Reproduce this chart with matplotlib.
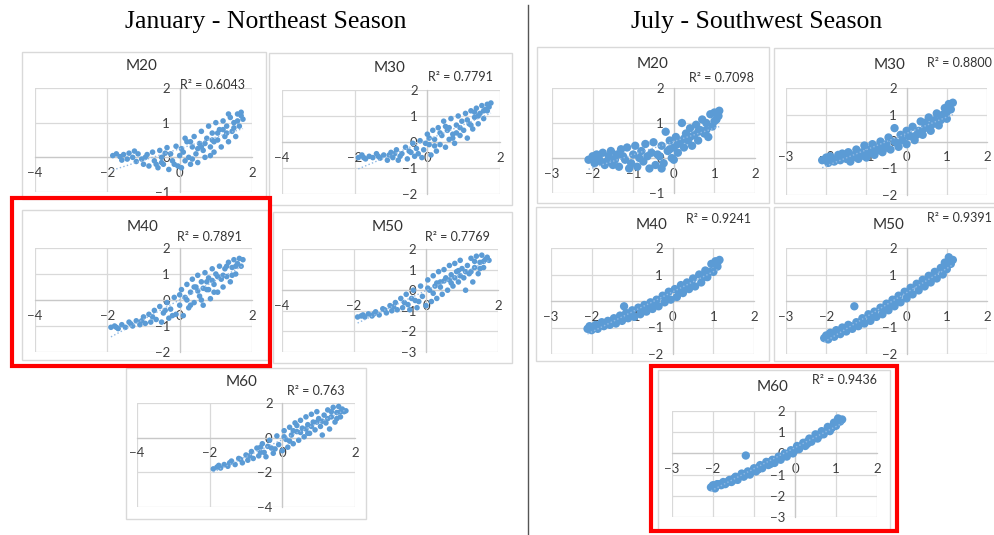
import numpy as np
import matplotlib.pyplot as plt
from matplotlib.patches import Rectangle
from matplotlib.lines import Line2D

W, H = 994, 535
BLUE = '#5B9BD5'
GRID = '#d9d9d9'
plt.rcParams['font.family'] = ['Lato', 'DejaVu Sans']

# ---- data: (x, y) pairs ----
jan_m20 = np.array([
    (-1.85, 0.05), (-1.75, 0.1), (-1.65, 0.02), (-1.55, 0.08), (-1.45, -0.05), (-1.4, 0.12),
    (-1.3, 0.0), (-1.2, -0.12), (-1.15, 0.1), (-1.05, -0.05), (-1.0, -0.2), (-0.9, 0.08),
    (-0.85, -0.25), (-0.75, 0.15), (-0.7, -0.1), (-0.6, -0.3), (-0.55, 0.2), (-0.5, 0.0),
    (-0.45, -0.2), (-0.35, 0.28), (-0.3, -0.35), (-0.25, 0.1), (-0.2, -0.1), (-0.1, 0.32),
    (-0.05, -0.25), (0.0, 0.05), (0.05, -0.3), (0.1, 0.15), (0.15, -0.1), (0.2, 0.45),
    (0.25, 0.0), (0.3, -0.2), (0.35, 0.3), (0.4, 0.6), (0.45, 0.1), (0.5, -0.15), (0.55, 0.4),
    (0.6, 0.75), (0.65, 0.2), (0.7, 0.0), (0.75, 0.55), (0.8, 0.9), (0.85, 0.3), (0.9, 0.7),
    (0.95, 0.15), (1.0, 1.0), (1.05, 0.5), (1.1, 0.8), (1.15, 0.3), (1.2, 1.05), (1.25, 0.6),
    (1.3, 0.9), (1.35, 0.45), (1.4, 1.15), (1.45, 0.75), (1.5, 1.0), (1.55, 0.6), (1.6, 1.25),
    (1.65, 0.9), (1.7, 1.3), (1.75, 1.1), (0.3, 0.45), (0.6, 0.3), (0.9, 0.5), (1.2, 0.8),
    (-1.6, -0.08), (-1.25, 0.18), (-0.95, 0.0), (-0.65, -0.2), (-0.4, 0.12), (-0.15, -0.2),
    (0.05, 0.25), (0.35, -0.05), (0.5, 0.25), (0.7, 0.4), (0.85, 0.05), (1.05, 0.7),
    (1.3, 0.7), (1.5, 0.85), (1.6, 1.05), (1.7, 1.2), (0.15, 0.55), (-0.5, -0.15),
    (1.35, 1.25), (0.95, 0.45)])

jan_m30 = np.array([
    (-1.9, -0.6), (-1.8, -0.5), (-1.7, -0.65), (-1.6, -0.55), (-1.5, -0.6), (-1.4, -0.45),
    (-1.3, -0.62), (-1.2, -0.5), (-1.1, -0.7), (-1.0, -0.4), (-0.95, -0.6), (-0.85, -0.3),
    (-0.8, -0.7), (-0.7, -0.45), (-0.6, -0.2), (-0.55, -0.65), (-0.5, -0.35), (-0.4, -0.05),
    (-0.35, -0.55), (-0.3, -0.25), (-0.2, 0.05), (-0.15, -0.6), (-0.1, -0.3), (0.0, 0.3),
    (0.05, -0.1), (0.1, -0.5), (0.15, 0.45), (0.2, 0.1), (0.25, -0.35), (0.3, 0.55),
    (0.35, -0.1), (0.4, 0.25), (0.45, 0.8), (0.5, -0.2), (0.55, 0.45), (0.6, 0.1), (0.65, 0.9),
    (0.7, 0.3), (0.75, -0.05), (0.8, 0.65), (0.85, 1.0), (0.9, 0.25), (0.95, 0.8), (1.0, 0.45),
    (1.05, 1.1), (1.1, 0.15), (1.15, 0.7), (1.2, 1.2), (1.25, 0.5), (1.3, 0.95), (1.35, 1.3),
    (1.4, 0.7), (1.45, 1.1), (1.5, 1.4), (1.55, 0.9), (1.6, 1.25), (1.65, 1.45), (1.7, 1.35),
    (1.75, 1.5), (-0.9, -0.45), (0.5, 0.6),
    (-1.75, -0.6), (-1.35, -0.55), (-1.05, -0.5), (-0.75, -0.55), (-0.45, -0.4), (-0.25, -0.45),
    (0.05, 0.15), (0.2, -0.15), (0.35, 0.35), (0.6, 0.55), (0.7, 0.15), (0.9, 0.55),
    (1.1, 0.85), (1.2, 0.65), (1.4, 1.0), (1.55, 1.2), (1.65, 1.2), (0.8, 0.35),
    (-0.05, -0.05), (1.3, 1.15)])

jan_m40 = np.array([
    (-1.9, -1.05), (-1.8, -1.0), (-1.7, -1.1), (-1.6, -0.95), (-1.5, -1.05), (-1.4, -0.85),
    (-1.3, -1.0), (-1.2, -0.8), (-1.1, -0.95), (-1.0, -0.65), (-0.95, -0.9), (-0.85, -0.55),
    (-0.8, -0.85), (-0.7, -0.4), (-0.65, -0.75), (-0.55, -0.25), (-0.5, -0.85), (-0.45, -0.5),
    (-0.35, -0.1), (-0.3, -0.7), (-0.25, -0.35), (-0.15, 0.1), (-0.1, -0.55), (0.0, -0.2),
    (0.05, 0.4), (0.1, -0.6), (0.15, 0.1), (0.2, 0.6), (0.25, -0.3), (0.3, 0.3), (0.35, 0.8),
    (0.4, -0.1), (0.45, 0.5), (0.5, 0.95), (0.55, 0.15), (0.6, 0.7), (0.65, -0.2), (0.7, 1.05),
    (0.75, 0.4), (0.8, 0.85), (0.85, 0.05), (0.9, 1.2), (0.95, 0.6), (1.0, 1.0), (1.05, 0.3),
    (1.1, 1.3), (1.15, 0.8), (1.2, 0.5), (1.25, 1.2), (1.3, 0.9), (1.35, 1.45), (1.4, 0.7),
    (1.45, 1.25), (1.5, 1.55), (1.55, 1.0), (1.6, 1.4), (1.65, 1.6), (1.7, 1.3), (1.75, 1.55),
    (0.4, 0.5), (0.8, 0.4),
    (-1.75, -1.05), (-1.35, -0.92), (-1.05, -0.8), (-0.75, -0.65), (-0.4, -0.4), (-0.2, -0.6),
    (0.0, 0.2), (0.2, 0.0), (0.3, -0.2), (0.5, 0.35), (0.6, 0.0), (0.75, 0.7), (0.95, 0.3),
    (1.05, 0.9), (1.2, 0.95), (1.3, 1.3), (1.45, 0.95), (1.55, 1.3), (0.65, 0.45), (0.9, 0.75)])

jan_m50 = np.array([
    (-1.9, -1.3), (-1.8, -1.25), (-1.7, -1.3), (-1.6, -1.15), (-1.5, -1.25), (-1.4, -1.05),
    (-1.3, -1.2), (-1.2, -0.9), (-1.1, -1.1), (-1.0, -0.75), (-0.95, -1.0), (-0.85, -0.6),
    (-0.8, -0.95), (-0.7, -0.4), (-0.65, -0.85), (-0.55, -0.2), (-0.5, -0.7), (-0.45, -0.95),
    (-0.35, 0.0), (-0.3, -0.5), (-0.25, -0.85), (-0.15, 0.2), (-0.1, -0.3), (0.0, -0.75),
    (0.05, 0.5), (0.1, 0.0), (0.15, -0.55), (0.2, 0.7), (0.25, 0.2), (0.3, -0.4), (0.35, 0.9),
    (0.4, 0.4), (0.45, -0.2), (0.5, 1.0), (0.55, 0.6), (0.6, 0.0), (0.65, 1.2), (0.7, 0.75),
    (0.75, 0.2), (0.8, 1.3), (0.85, 0.9), (0.9, 0.4), (0.95, 1.45), (1.0, 1.05), (1.05, 0.6),
    (1.1, 0.0), (1.15, 1.2), (1.2, 0.8), (1.25, 1.55), (1.3, 0.4), (1.35, 1.1), (1.4, 1.65),
    (1.45, 0.8), (1.5, 1.35), (1.55, 1.7), (1.6, 1.1), (1.65, 1.5), (1.7, 1.6), (1.75, 1.45),
    (0.3, 0.35), (0.9, 0.95),
    (-1.75, -1.2), (-1.45, -1.15), (-1.15, -0.95), (-0.9, -0.8), (-0.6, -0.6), (-0.4, -0.4),
    (-0.2, -0.55), (0.05, 0.1), (0.2, -0.15), (0.4, 0.15), (0.5, 0.45), (0.65, 0.5),
    (0.8, 0.6), (0.95, 0.7), (1.1, 0.9), (1.25, 0.9), (1.35, 1.4), (1.5, 1.05), (1.6, 1.4),
    (0.7, 0.35)])

jan_m60 = np.array([
    (-1.9, -1.8), (-1.8, -1.7), (-1.7, -1.75), (-1.6, -1.55), (-1.5, -1.65), (-1.4, -1.35),
    (-1.3, -1.55), (-1.2, -1.2), (-1.1, -1.45), (-1.0, -1.0), (-0.95, -1.3), (-0.85, -0.8),
    (-0.8, -1.2), (-0.7, -0.6), (-0.65, -1.05), (-0.55, -0.35), (-0.5, -0.85), (-0.45, -1.1),
    (-0.35, -0.15), (-0.3, -0.6), (-0.25, -0.9), (-0.15, 0.1), (-0.1, -0.4), (0.0, -0.75),
    (0.05, 0.4), (0.1, -0.1), (0.15, -0.55), (0.2, 0.6), (0.25, 0.15), (0.3, -0.35),
    (0.35, 0.85), (0.4, 0.35), (0.45, -0.15), (0.5, 1.0), (0.55, 0.55), (0.6, 0.05), (0.65, 1.2),
    (0.7, 0.75), (0.75, 0.25), (0.8, 1.35), (0.85, 0.9), (0.9, 0.45), (0.95, 1.5), (1.0, 1.1),
    (1.05, 0.65), (1.1, 0.15), (1.15, 1.3), (1.2, 0.85), (1.25, 1.6), (1.3, 0.5), (1.35, 1.2),
    (1.4, 1.75), (1.45, 0.9), (1.5, 1.45), (1.55, 1.8), (1.6, 1.2), (1.65, 1.65), (1.7, 1.5),
    (1.75, 1.55), (0.3, 0.4), (-0.6, -0.55),
    (-1.75, -1.6), (-1.45, -1.45), (-1.15, -1.25), (-0.9, -1.05), (-0.6, -0.85), (-0.4, -0.5),
    (-0.2, -0.65), (0.05, 0.05), (0.2, -0.2), (0.4, 0.7), (0.5, 0.3), (0.65, 0.5), (0.8, 0.65),
    (0.95, 0.9), (1.1, 0.95), (1.25, 1.1), (1.35, 1.5), (1.5, 1.1), (1.6, 1.5), (0.7, 0.25)])

jul_m20 = np.array([
    (-2.1, -0.05), (-2.0, 0.05), (-1.95, -0.15), (-1.9, 0.1), (-1.8, -0.1), (-1.75, 0.15),
    (-1.7, -0.2), (-1.6, 0.05), (-1.55, 0.2), (-1.5, -0.2), (-1.4, 0.1), (-1.35, -0.25),
    (-1.3, 0.25), (-1.2, -0.05), (-1.15, 0.3), (-1.1, -0.3), (-1.0, 0.1), (-0.95, 0.35),
    (-0.9, -0.25), (-0.8, 0.2), (-0.75, -0.1), (-0.7, 0.4), (-0.6, -0.3), (-0.55, 0.15),
    (-0.5, 0.45), (-0.45, -0.2), (-0.4, 0.1), (-0.3, 0.35), (-0.25, -0.15), (-0.2, 0.75),
    (-0.15, 0.2), (-0.1, 0.5), (-0.05, 0.0), (0.0, 0.3), (0.05, 0.6), (0.1, 0.15), (0.15, 0.45),
    (0.2, 1.0), (0.25, 0.3), (0.3, 0.7), (0.35, 0.5), (0.4, 0.85), (0.45, 0.35), (0.5, 0.65),
    (0.55, 0.95), (0.6, 0.5), (0.65, 0.8), (0.7, 1.1), (0.75, 0.7), (0.8, 1.0), (0.85, 0.6),
    (0.9, 1.25), (0.95, 0.9), (1.0, 1.3), (1.05, 1.1), (1.1, 1.2), (1.12, 1.35), (-1.25, 0.05),
    (-0.65, 0.05), (0.25, 0.55),
    (-1.85, 0.0), (-1.65, -0.1), (-1.45, -0.05), (-1.05, -0.15), (-0.85, 0.0), (-0.35, 0.05),
    (-0.1, 0.25), (0.1, 0.4), (0.4, 0.6), (0.6, 0.75), (0.8, 0.8), (1.0, 1.05), (-0.3, -0.3),
    (0.0, -0.05)])

jul_m30 = np.array([
    (-2.1, -0.7), (-2.0, -0.6), (-1.95, -0.8), (-1.9, -0.55), (-1.8, -0.75), (-1.7, -0.5),
    (-1.65, -0.7), (-1.6, -0.45), (-1.5, -0.65), (-1.45, -0.4), (-1.4, -0.75), (-1.3, -0.5),
    (-1.25, -0.3), (-1.2, -0.65), (-1.1, -0.4), (-1.05, -0.15), (-1.0, -0.6), (-0.9, -0.3),
    (-0.85, -0.1), (-0.8, -0.5), (-0.7, -0.2), (-0.65, 0.0), (-0.6, -0.4), (-0.5, -0.1),
    (-0.45, 0.15), (-0.4, -0.3), (-0.3, 0.5), (-0.3, 0.0), (-0.2, -0.2), (-0.15, 0.25),
    (-0.1, 0.05), (0.0, 0.4), (0.0, -0.1), (0.1, 0.2), (0.15, 0.55), (0.2, 0.05), (0.3, 0.4),
    (0.35, 0.75), (0.4, 0.25), (0.5, 0.6), (0.55, 0.9), (0.6, 0.4), (0.7, 0.8), (0.75, 1.05),
    (0.8, 0.6), (0.9, 1.0), (0.95, 1.25), (1.0, 0.85), (1.05, 1.4), (1.1, 1.2), (1.15, 1.45),
    (-1.55, -0.55), (-0.75, -0.35), (0.45, 0.5),
    (-1.85, -0.65), (-1.35, -0.6), (-0.95, -0.45), (-0.55, -0.25), (-0.25, -0.05), (0.05, 0.2),
    (0.25, 0.25), (0.65, 0.65), (0.85, 0.8), (1.0, 1.1), (-1.15, -0.55), (0.45, 0.7)])

jul_m40 = np.array([
    (-2.1, -1.05), (-2.05, -0.95), (-2.0, -1.1), (-1.9, -0.9), (-1.85, -1.05), (-1.75, -0.8),
    (-1.7, -0.95), (-1.6, -0.75), (-1.55, -0.9), (-1.45, -0.65), (-1.4, -0.85), (-1.3, -0.55),
    (-1.25, -0.75), (-1.15, -0.45), (-1.1, -0.65), (-1.0, -0.35), (-0.95, -0.6), (-0.85, -0.25),
    (-0.8, -0.5), (-0.7, -0.15), (-0.65, -0.4), (-0.55, -0.05), (-0.5, -0.3), (-0.4, 0.05),
    (-0.35, -0.2), (-0.25, 0.2), (-0.2, -0.05), (-0.1, 0.35), (-0.05, 0.05), (0.05, 0.45),
    (0.1, 0.15), (0.2, 0.6), (0.25, 0.3), (0.35, 0.7), (0.4, 0.45), (0.5, 0.85), (0.55, 0.55),
    (0.65, 1.0), (0.7, 0.7), (0.8, 1.15), (0.85, 0.9), (0.95, 1.4), (1.0, 1.1), (1.05, 1.5),
    (1.1, 1.3), (1.15, 1.55), (-1.2, -0.2), (-1.5, -0.8), (0.3, 0.5), (-0.6, -0.2),
    (-1.95, -1.0), (-1.65, -0.85), (-1.35, -0.7), (-1.05, -0.5), (-0.75, -0.3), (-0.45, -0.15),
    (-0.15, 0.1), (0.15, 0.35), (0.45, 0.65), (0.75, 0.9), (0.9, 1.1), (1.1, 1.45)])

jul_m50 = np.array([
    (-2.05, -1.4), (-2.0, -1.3), (-1.95, -1.45), (-1.9, -1.2), (-1.8, -1.35), (-1.75, -1.1),
    (-1.65, -1.25), (-1.6, -1.0), (-1.5, -1.15), (-1.45, -0.9), (-1.35, -1.05), (-1.3, -0.2),
    (-1.25, -0.8), (-1.2, -0.95), (-1.1, -0.65), (-1.05, -0.85), (-0.95, -0.5), (-0.9, -0.75),
    (-0.8, -0.4), (-0.75, -0.6), (-0.65, -0.25), (-0.6, -0.5), (-0.5, -0.1), (-0.45, -0.35),
    (-0.35, 0.05), (-0.3, -0.2), (-0.2, 0.2), (-0.15, -0.05), (-0.05, 0.35), (0.0, 0.1),
    (0.1, 0.5), (0.15, 0.25), (0.25, 0.65), (0.3, 0.4), (0.4, 0.8), (0.45, 0.55), (0.55, 0.95),
    (0.6, 0.7), (0.7, 1.1), (0.75, 0.85), (0.85, 1.25), (0.9, 1.0), (0.95, 1.45), (1.0, 1.2),
    (1.05, 1.65), (1.1, 1.4), (1.15, 1.55), (-1.55, -1.05), (-0.4, -0.1), (0.5, 0.7),
    (-1.85, -1.3), (-1.55, -1.1), (-1.15, -0.8), (-0.85, -0.6), (-0.55, -0.3), (-0.25, 0.0),
    (0.05, 0.3), (0.35, 0.6), (0.65, 0.9), (0.95, 1.25), (-1.4, -0.95), (1.1, 1.55)])

jul_m60 = np.array([
    (-2.05, -1.6), (-2.0, -1.5), (-1.95, -1.65), (-1.9, -1.45), (-1.8, -1.5), (-1.75, -1.35),
    (-1.7, -1.45), (-1.6, -1.25), (-1.55, -1.35), (-1.45, -1.1), (-1.4, -1.25), (-1.3, -0.95),
    (-1.25, -1.1), (-1.2, -0.1), (-1.15, -0.85), (-1.1, -1.0), (-1.0, -0.7), (-0.95, -0.85),
    (-0.85, -0.55), (-0.8, -0.7), (-0.7, -0.4), (-0.65, -0.55), (-0.55, -0.3), (-0.5, -0.45),
    (-0.4, -0.15), (-0.35, -0.3), (-0.25, 0.0), (-0.2, -0.15), (-0.1, 0.15), (-0.05, 0.0),
    (0.05, 0.35), (0.1, 0.2), (0.2, 0.5), (0.25, 0.35), (0.35, 0.7), (0.4, 0.55), (0.5, 0.9),
    (0.55, 0.7), (0.65, 1.05), (0.7, 0.9), (0.8, 1.25), (0.85, 1.05), (0.95, 1.45), (1.0, 1.3),
    (1.05, 1.65), (1.1, 1.5), (1.15, 1.6), (-1.5, -1.2), (-0.6, -0.4), (0.3, 0.55),
    (-1.85, -1.45), (-1.5, -1.25), (-1.2, -1.0), (-0.9, -0.75), (-0.6, -0.5), (-0.3, -0.15),
    (0.0, 0.15), (0.3, 0.45), (0.6, 0.85), (0.9, 1.2), (1.1, 1.55), (-1.65, -1.35)])

names = ['M20', 'M30', 'M40', 'M50', 'M60'] * 2
r2_labels = ['0.6043', '0.7791', '0.7891', '0.7769', '0.763',
             '0.7098', '0.8800', '0.9241', '0.9391', '0.9436']
series = [jan_m20, jan_m30, jan_m40, jan_m50, jan_m60,
          jul_m20, jul_m30, jul_m40, jul_m50, jul_m60]
x_ticks = [[-4, -2, 0, 2]] * 5 + [[-3, -2, -1, 0, 1, 2]] * 5
y_ticks = [[-1, 0, 1, 2], [-2, -1, 0, 1, 2], [-2, -1, 0, 1, 2], [-3, -2, -1, 0, 1, 2],
           [-4, -2, 0, 2],
           [-1, 0, 1, 2], [-2, -1, 0, 1, 2], [-2, -1, 0, 1, 2], [-2, -1, 0, 1, 2],
           [-3, -2, -1, 0, 1, 2]]

# ---- layout in pixels: panel box, plot area, title centre, R2 left/centre ----
boxes = [(22, 52, 266, 199), (269, 53, 512, 205), (22, 210, 268, 360), (273, 212, 512, 363),
         (126, 368, 366, 519), (537, 47, 769, 203), (774, 48, 1000, 203), (536, 207, 769, 361),
         (774, 207, 1000, 361), (658, 370, 890, 530)]
plots = [(35, 88, 252, 192), (282, 90, 500, 194), (35, 248, 252, 352), (282, 249, 498, 352),
         (137, 403, 355, 507), (552, 88, 755, 193), (786, 88, 987, 195), (551, 248, 754, 354),
         (786, 248, 987, 354), (672, 411, 877, 517)]
title_pos = [(142, 66), (390, 68), (143, 227), (388, 227), (242, 382),
             (653, 64), (890, 65), (652, 225), (889, 225), (773, 387)]
r2_pos = [(180, 85), (428, 77), (177, 237), (425, 237), (287, 391),
          (689, 78), (927, 63), (686, 219), (927, 218), (812, 380)]
red_boxes = [(12, 198, 270, 366), (651, 366, 897, 531)]

fig = plt.figure(figsize=(W / 100, H / 100), dpi=100)


def fx(x):
    return x / W


def fy(y):
    return 1 - y / H


for i in range(10):
    bx0, by0, bx1, by1 = boxes[i]
    fig.add_artist(Rectangle((fx(bx0), fy(by1)), (bx1 - bx0) / W, (by1 - by0) / H,
                             transform=fig.transFigure, facecolor='white',
                             edgecolor=GRID, lw=1, zorder=-1))
    px0, py0, px1, py1 = plots[i]
    ax = fig.add_axes([fx(px0), fy(py1), (px1 - px0) / W, (py1 - py0) / H])
    ax.patch.set_alpha(0)
    xt, yt = x_ticks[i], y_ticks[i]
    ax.set_xlim(xt[0], xt[-1])
    ax.set_ylim(yt[0], yt[-1])
    ax.set_xticks(xt)
    ax.set_yticks(yt)
    ax.grid(True, color=GRID, lw=0.9)
    ax.set_axisbelow(True)
    for s in ['top', 'right']:
        ax.spines[s].set_visible(False)
    for s in ['left', 'bottom']:
        ax.spines[s].set_position(('data', 0))
        ax.spines[s].set_color('#c8c8c8')
        ax.spines[s].set_linewidth(0.9)
    ax.tick_params(length=0, labelsize=9.5, labelcolor='#404040', pad=7)

    d = series[i]
    ax.scatter(d[:, 0], d[:, 1], s=16 if i < 5 else 36, color=BLUE,
               edgecolors='none', zorder=3, clip_on=False)
    fit = np.polyfit(d[:, 0], d[:, 1], 1)
    xs = np.array([d[:, 0].min(), d[:, 0].max()])
    ax.plot(xs, np.polyval(fit, xs), ls=':', color='#8fb8e3', lw=1, zorder=4)

    fig.text(fx(title_pos[i][0]), fy(title_pos[i][1]), names[i], ha='center',
             va='center', fontsize=11, color='#333333')
    fig.text(fx(r2_pos[i][0]), fy(r2_pos[i][1]), 'R\u00b2 = ' + r2_labels[i],
             ha='left', va='center', fontsize=9, color='#333333')

for x0, y0, x1, y1 in red_boxes:
    fig.add_artist(Rectangle((fx(x0), fy(y1)), (x1 - x0) / W, (y1 - y0) / H,
                             transform=fig.transFigure, fill=False,
                             edgecolor='#ff0000', lw=3, zorder=10))

fig.add_artist(Line2D([fx(528), fx(528)], [fy(5), fy(535)], color='#555555', lw=1))
fig.text(fx(266), fy(22), 'January - Northeast Season', family='Liberation Serif',
         fontsize=18.5, ha='center', va='center')
fig.text(fx(757), fy(22), 'July - Southwest Season', family='Liberation Serif',
         fontsize=18.5, ha='center', va='center')

fig.savefig('out.png', dpi=100, facecolor='white')
